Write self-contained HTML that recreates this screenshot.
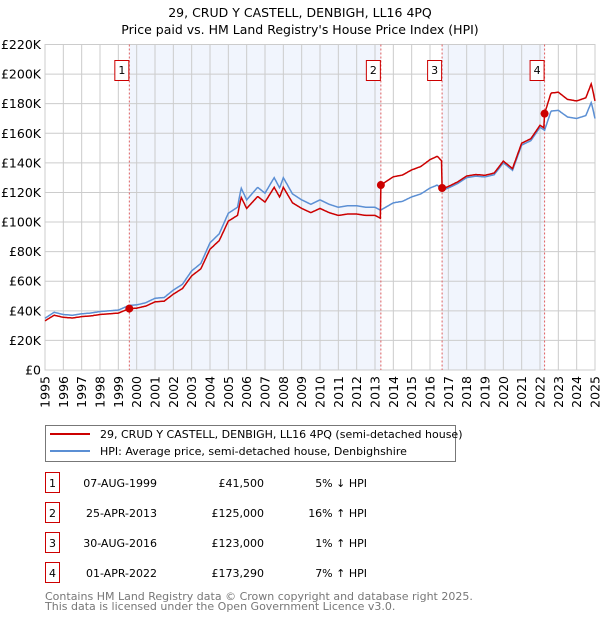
<!DOCTYPE html>
<html><head><meta charset="utf-8"><style>
body{margin:0;background:#fff;}
svg text{font-family:"DejaVu Sans","Liberation Sans",sans-serif;}
</style></head><body>
<svg id="chart" width="600" height="620" xmlns="http://www.w3.org/2000/svg">
<text x="300" y="17" text-anchor="middle" font-size="12.5">29, CRUD Y CASTELL, DENBIGH, LL16 4PQ</text>
<text x="300" y="34" text-anchor="middle" font-size="12.5">Price paid vs. HM Land Registry's House Price Index (HPI)</text>
<g id="plot"></g>
<g>
<rect x="45.5" y="425.5" width="410" height="36" fill="#fff" stroke="#777"/>
<line x1="50" y1="434" x2="90" y2="434" stroke="#cc0000" stroke-width="2"/>
<text x="100" y="438" font-size="11">29, CRUD Y CASTELL, DENBIGH, LL16 4PQ (semi-detached house)</text>
<line x1="50" y1="451" x2="90" y2="451" stroke="#5b8fd4" stroke-width="2"/>
<text x="100" y="455" font-size="11">HPI: Average price, semi-detached house, Denbighshire</text>
</g>
<g id="table" font-size="11"></g>
<text x="45" y="600" font-size="11" fill="#777">Contains HM Land Registry data © Crown copyright and database right 2025.</text>
<text x="45" y="610" font-size="11" fill="#777">This data is licensed under the Open Government Licence v3.0.</text>
</svg>
<script>
const hpiYears=[1995,1995.5,1996,1996.5,1997,1997.5,1998,1998.5,1999,1999.6,2000,2000.5,2001,2001.5,2002,2002.5,2003,2003.5,2004,2004.5,2005,2005.5,2005.7,2006,2006.6,2007,2007.5,2007.8,2008,2008.5,2009,2009.5,2010,2010.5,2011,2011.5,2012,2012.5,2013,2013.3,2014,2014.5,2015,2015.5,2016,2016.4,2016.7,2017,2017.5,2018,2018.5,2019,2019.5,2020,2020.5,2021,2021.5,2022,2022.25,2022.6,2023,2023.5,2024,2024.5,2024.8,2025];
const hpiValues=[35,39,37.5,37,38,38.5,39.5,40,40.5,43.7,44,45.5,48.5,49,54,58,67,72,86,92,106,110,123,115,123.5,119.5,130,123,130,119,115,112,115,112,110,111,111,110,110,108,113,114,117,119,123,125,121.5,123,126,130,131,130.5,132,140,135,152,155,164,162,175,175.5,171,170,172,181,170];
const saleDates=[1999.6,2013.32,2016.66,2022.25];
const salePrices=[41500,125000,123000,173290];
const saleLabels=["1","2","3","4"];
const saleDateText=["07-AUG-1999","25-APR-2013","30-AUG-2016","01-APR-2022"];
const salePriceText=["£41,500","£125,000","£123,000","£173,290"];
const saleHpiText=["5% ↓ HPI","16% ↑ HPI","1% ↑ HPI","7% ↑ HPI"];
const yTicks=[0,20000,40000,60000,80000,100000,120000,140000,160000,180000,200000,220000];
const yTickLabels=["£0","£20K","£40K","£60K","£80K","£100K","£120K","£140K","£160K","£180K","£200K","£220K"];
const xTicks=[1995,1996,1997,1998,1999,2000,2001,2002,2003,2004,2005,2006,2007,2008,2009,2010,2011,2012,2013,2014,2015,2016,2017,2018,2019,2020,2021,2022,2023,2024,2025];

const NS="http://www.w3.org/2000/svg";
const X0=45,X1=595,Y0=370,Y1=44.5;
const xs=t=>X0+(t-1995)/30*(X1-X0);
const ys=v=>Y0-v/220000*(Y0-Y1);
function mk(tag,attrs,parent){const e=document.createElementNS(NS,tag);for(const k in attrs)e.setAttribute(k,attrs[k]);parent.appendChild(e);return e;}
function hpiAt(t){for(let i=0;i<hpiYears.length-1;i++){if(t>=hpiYears[i]&&t<=hpiYears[i+1]){const f=(t-hpiYears[i])/(hpiYears[i+1]-hpiYears[i]);return (hpiValues[i]+f*(hpiValues[i+1]-hpiValues[i]))*1000;}}return hpiValues[hpiValues.length-1]*1000;}
const plot=document.getElementById('plot');
// shaded regions
[[0,1],[2,3]].forEach((p,i)=>{
const r=mk('rect',{x:xs(saleDates[p[0]]),y:Y1,width:xs(saleDates[p[1]])-xs(saleDates[p[0]]),height:Y0-Y1,fill:'#eef3fc',opacity:0.8},plot);


});
// grid
yTicks.forEach((v,i)=>{
const l=mk('line',{x1:X0,x2:X1,y1:ys(v),y2:ys(v),stroke:'#ccc','stroke-width':1},plot);


const t=mk('text',{x:X0-4,y:ys(v)+4.5,'text-anchor':'end','font-size':12.5},plot);
t.textContent=yTickLabels[i];


});
xTicks.forEach(yr=>{
const l=mk('line',{x1:xs(yr),x2:xs(yr),y1:Y1,y2:Y0,stroke:'#ccc','stroke-width':1},plot);


const t=mk('text',{x:0,y:0,'text-anchor':'end','font-size':12.5,transform:`translate(${xs(yr)+4.5},${Y0+6}) rotate(-90)`},plot);
t.textContent=yr;


});
const frame=mk('rect',{x:X0,y:Y1,width:X1-X0,height:Y0-Y1,fill:'none',stroke:'#ccc'},plot);


// sale markers lines
saleDates.forEach((d,i)=>{
const l=mk('line',{x1:xs(d),x2:xs(d),y1:Y1,y2:Y0,stroke:'#e06060','stroke-dasharray':'2,2','stroke-width':1},plot);


const b=mk('rect',{x:xs(d)-14.5,y:60.5,width:14,height:20,fill:'#fff',stroke:'#cc0000'},plot);


const t=mk('text',{x:xs(d)-7.5,y:74,'text-anchor':'middle','font-size':11},plot);
t.textContent=saleLabels[i];


});
// lines
const ts=[];for(let t=1995;t<=2025.001;t+=1/24)ts.push(t);saleDates.forEach(d=>ts.push(d,d+0.001));ts.sort((a,b)=>a-b);
function factorAt(t){let k=0;for(let i=0;i<saleDates.length;i++)if(t>=saleDates[i])k=i;return salePrices[k]/hpiAt(saleDates[k]);}
const bp=ts.map((t,i)=>(i?'L':'M')+xs(t).toFixed(1)+','+ys(hpiAt(t)).toFixed(1)).join('');
const rp=ts.map((t,i)=>(i?'L':'M')+xs(t).toFixed(1)+','+ys(hpiAt(t)*factorAt(t)).toFixed(1)).join('');
const bl=mk('path',{d:bp,fill:'none',stroke:'#5b8fd4','stroke-width':1.5},plot);


const rl=mk('path',{d:rp,fill:'none',stroke:'#cc0000','stroke-width':1.5},plot);


saleDates.forEach((d,i)=>{
const c=mk('circle',{cx:xs(d),cy:ys(salePrices[i]),r:4,fill:'#cc0000'},plot);


});
// table
const tb=document.getElementById('table');
saleLabels.forEach((lab,i)=>{
const cy=483+i*30;
const b=mk('rect',{x:45.5,y:cy-10.5,width:14,height:20,fill:'#fff',stroke:'#cc0000'},tb);


const t0=mk('text',{x:52.5,y:cy+4,'text-anchor':'middle'},tb);t0.textContent=lab;


const t1=mk('text',{x:157,y:cy+4,'text-anchor':'end'},tb);t1.textContent=saleDateText[i];


const t2=mk('text',{x:264,y:cy+4,'text-anchor':'end'},tb);t2.textContent=salePriceText[i];


const t3=mk('text',{x:367,y:cy+4,'text-anchor':'end'},tb);t3.textContent=saleHpiText[i];


});
</script>
</body></html>
